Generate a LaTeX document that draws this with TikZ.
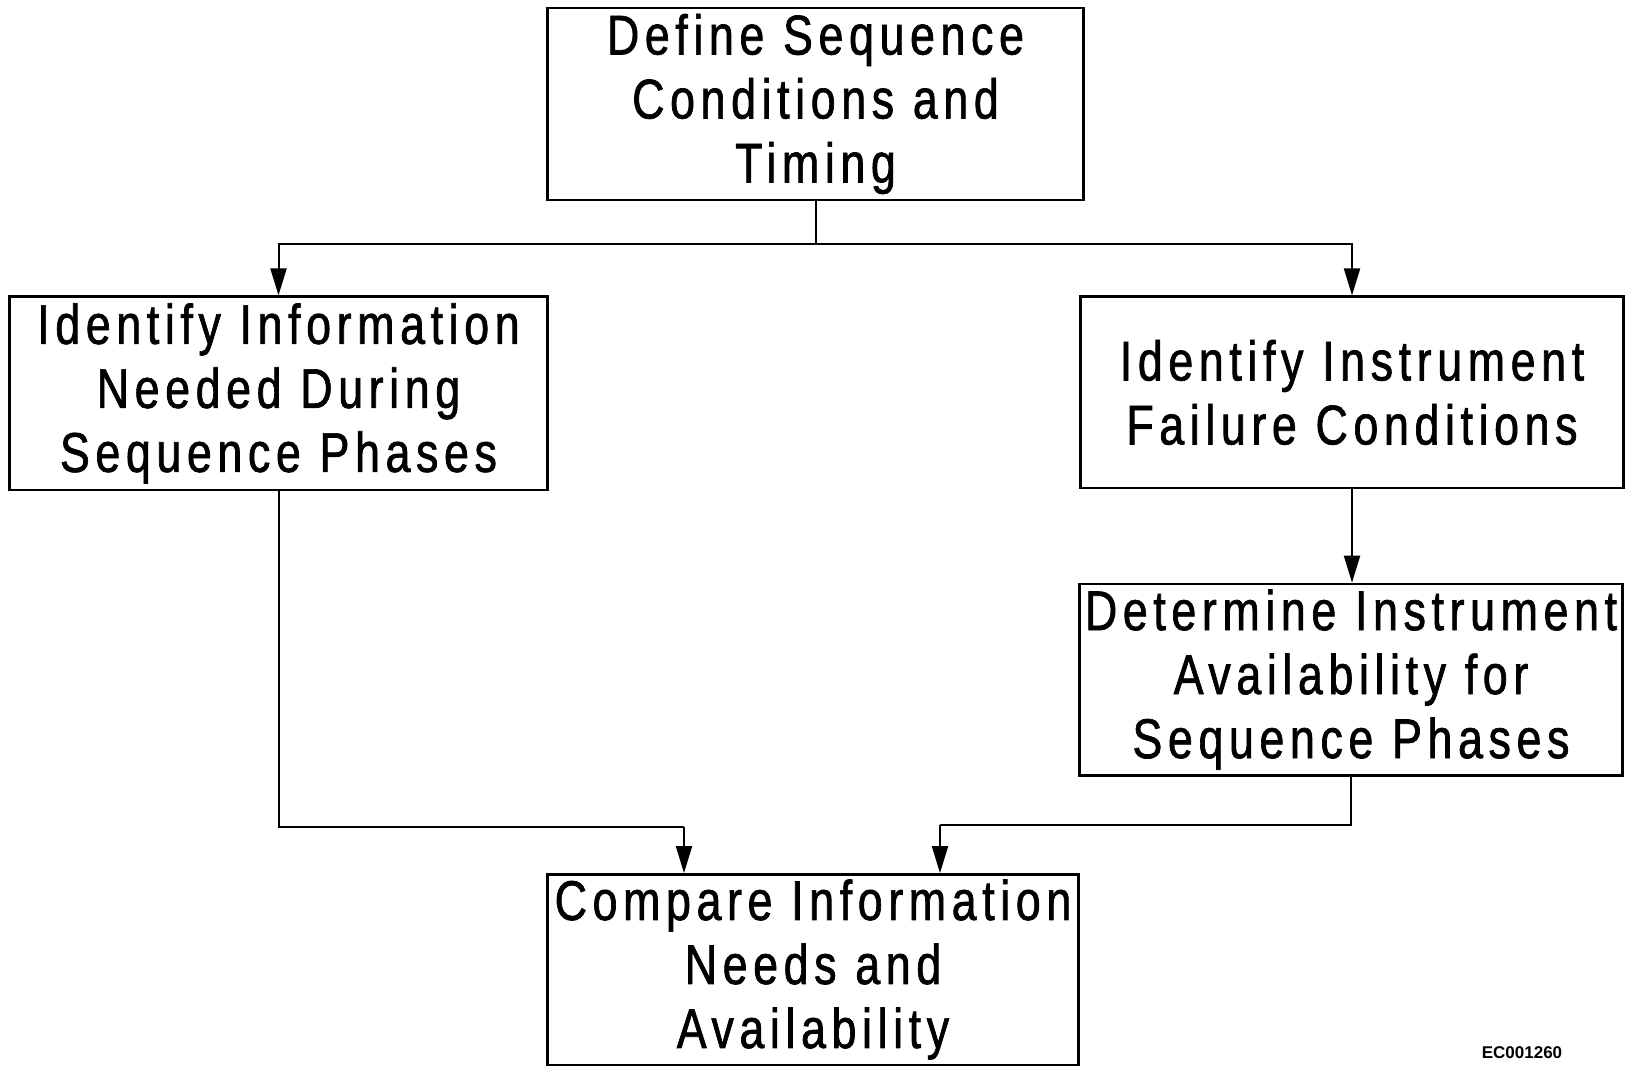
\documentclass[tikz,border=0pt]{standalone}
\usepackage{fontspec}
\usetikzlibrary{arrows.meta}
% narrow, loosely spaced sans for the step boxes
\newfontfamily\boxfont[FakeStretch=0.8,LetterSpace=10,WordSpace=2.6,FakeBold=1.2]{Liberation Sans}
\newfontfamily\tagfont{Liberation Sans}

\begin{document}
\begin{tikzpicture}[x=1pt,y=-1pt,
  stepbox/.style={draw, line width=2.4pt, inner sep=0pt, align=center,
    minimum height=191.5pt, font=\boxfont\fontsize{56}{64}\selectfont},
  link/.style={line width=2pt},
  arr/.style={link, -{Triangle[length=27pt,width=16pt]}}]

\fill[white] (0,0) rectangle (1632,1072);
\useasboundingbox (0,0) rectangle (1632,1072);

% process steps
\node[stepbox, text width=536pt] (define) at (815.5,104)
  {Define Sequence\\Conditions and\\Timing};
\node[stepbox, text width=538pt, minimum height=193.6pt] (needs) at (278.5,393.4)
  {Identify Information\\Needed During\\Sequence Phases};
\node[stepbox, text width=543pt] (failure) at (1352,392.4)
  {Identify Instrument\\Failure Conditions};
\node[stepbox, text width=543pt] (avail) at (1351,679.6)
  {Determine Instrument\\Availability for\\Sequence Phases};
\node[stepbox, text width=531pt, minimum height=190.4pt] (compare) at (813,969.5)
  {Compare Information\\Needs and\\Availability};

% junction points of the connectors
\coordinate (split) at (814,243.5);
\coordinate (joinL) at (684,827.4);
\coordinate (joinR) at (940,825.3);

% connectors
\draw[link] (define.south) -- (define.south |- split);
\draw[arr] (define.south |- split) -| (needs.north);
\draw[arr] (define.south |- split) -| (failure.north);
\draw[arr] (failure.south) -- (failure.south |- avail.north);
\draw[link] (needs.south) |- (joinL);
\draw[arr] (joinL) -- (joinL |- compare.north);
\draw[link] (avail.south) |- (joinR);
\draw[arr] (joinR) -- (joinR |- compare.north);

% figure tag
\node[font=\tagfont\bfseries\fontsize{17}{19}\selectfont, inner sep=0pt] (tag) at (1522,1052.5) {EC001260};
\end{tikzpicture}
\end{document}
